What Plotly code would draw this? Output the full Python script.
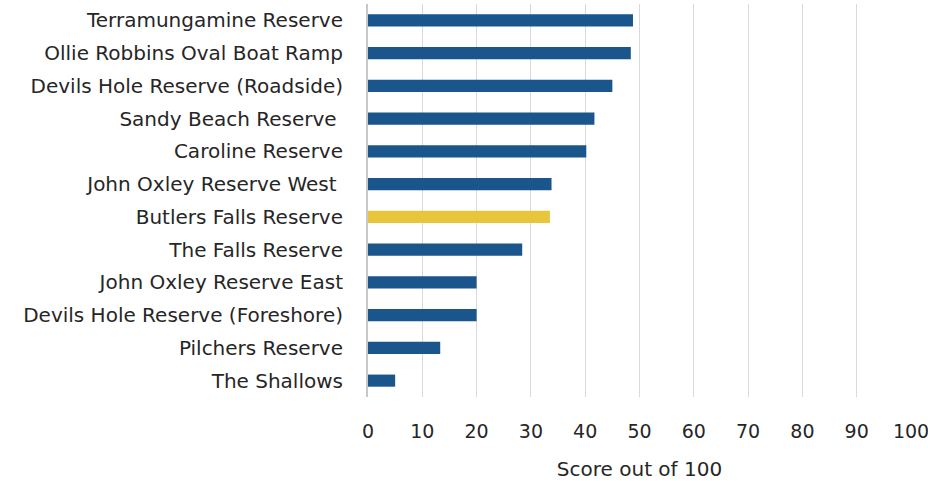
import plotly.graph_objects as go

categories = [
    "Terramungamine Reserve",
    "Ollie Robbins Oval Boat Ramp",
    "Devils Hole Reserve (Roadside)",
    "Sandy Beach Reserve\u00a0",
    "Caroline Reserve",
    "John Oxley Reserve West\u00a0",
    "Butlers Falls Reserve",
    "The Falls Reserve",
    "John Oxley Reserve East",
    "Devils Hole Reserve (Foreshore)",
    "Pilchers Reserve",
    "The Shallows",
]
scores = [48.8, 48.4, 45.0, 41.7, 40.2, 33.8, 33.5, 28.4, 20.0, 20.0, 13.3, 5.0]
highlight = "Butlers Falls Reserve"
x_ticks = [0, 10, 20, 30, 40, 50, 60, 70, 80, 90, 100]

BLUE = "#1a558c"
YELLOW = "#e9c53b"
colors = [YELLOW if c == highlight else BLUE for c in categories]

fig = go.Figure(
    go.Bar(
        x=scores,
        y=categories,
        orientation="h",
        marker=dict(color=colors, line=dict(width=0)),
        width=0.37,
    )
)

font_family = "DejaVu Sans, sans-serif"
TXT = "#262626"
fig.update_layout(
    width=928,
    height=481,
    margin=dict(l=368, r=17, t=4, b=84),
    paper_bgcolor="white",
    plot_bgcolor="white",
    showlegend=False,
    font=dict(family=font_family, size=20, color=TXT),
)
fig.update_xaxes(
    range=[0, 100],
    tickvals=x_ticks,
    automargin=False,
    showgrid=True,
    gridcolor="#d9d9d9",
    gridwidth=1.3,
    zeroline=False,
    showline=False,
    ticks="outside",
    ticklen=17,
    tickcolor="rgba(0,0,0,0)",
    ticklabeloverflow="allow",
    tickfont=dict(size=19, color=TXT),
    title=dict(text="Score out of 100", font=dict(size=20, color=TXT), standoff=24),
)
fig.update_yaxes(
    categoryorder="array",
    categoryarray=categories[::-1],
    autorange=False,
    automargin=False,
    range=[-0.5, len(categories) - 0.5],
    showgrid=False,
    showline=True,
    linecolor="#c8c8c8",
    linewidth=2,
    ticks="outside",
    ticklen=19,
    tickcolor="rgba(0,0,0,0)",
    tickfont=dict(size=20, color=TXT),
)

fig.write_html("out.html")
